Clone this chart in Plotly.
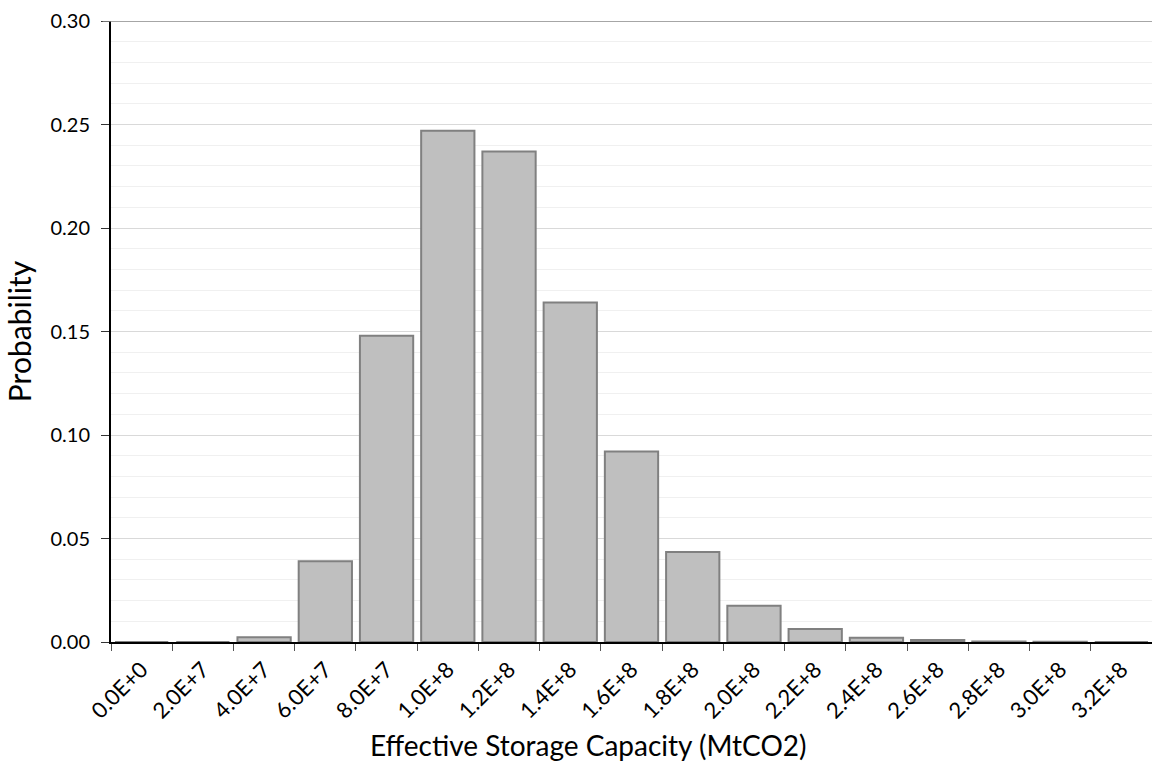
import plotly.graph_objects as go

categories = ["0.0E+0", "2.0E+7", "4.0E+7", "6.0E+7", "8.0E+7", "1.0E+8", "1.2E+8",
              "1.4E+8", "1.6E+8", "1.8E+8", "2.0E+8", "2.2E+8", "2.4E+8", "2.6E+8",
              "2.8E+8", "3.0E+8", "3.2E+8"]
probability = [0.0, 0.0, 0.0023, 0.039, 0.148, 0.247, 0.237, 0.164, 0.092, 0.0435,
               0.0175, 0.0063, 0.0021, 0.001, 0.0003, 0.0001, 0.0]
y_ticks = [0, 0.05, 0.10, 0.15, 0.20, 0.25, 0.30]
y_text = ["0.00", "0.05", "0.10", "0.15", "0.20", "0.25", "0.30"]

FONT = "Lato"

fig = go.Figure()
fig.add_trace(go.Bar(
    x=categories, y=probability,
    marker=dict(color="#bfbfbf", line=dict(color="#808080", width=2)),
))

fig.update_layout(
    width=1152, height=763,
    margin=dict(l=111, r=0, t=21, b=121),
    paper_bgcolor="white", plot_bgcolor="white",
    showlegend=False,
    font=dict(family=FONT, color="#000000"),
    bargap=0.13,
    shapes=[dict(type="line", xref="paper", yref="y", x0=-0.008, x1=1, y0=0.30, y1=0.30,
                 line=dict(color="#888888", width=1.5), layer="above")],
    annotations=[dict(text="Effective Storage Capacity (MtCO2)", xref="paper", yref="paper",
                      x=0.459, y=-0.166, xanchor="center", yanchor="middle", showarrow=False,
                      font=dict(size=28, family=FONT, color="#000000"))],
)
fig.update_xaxes(
    type="category", tickangle=-45, tickson="boundaries",
    tickfont=dict(size=22, family=FONT), ticks="outside", ticklen=7, tickcolor="#555555",
    ticklabelstandoff=4,
    showline=True, linecolor="#000000", linewidth=2, showgrid=False, zeroline=False,
    automargin=False,
)
fig.update_yaxes(
    range=[0, 0.30], tickvals=y_ticks, ticktext=y_text,
    tickfont=dict(size=20, family=FONT), ticks="outside", ticklen=8, tickcolor="#333333",
    ticklabelstandoff=7,
    showline=True, linecolor="#000000", linewidth=2,
    showgrid=True, gridcolor="#d9d9d9", gridwidth=1, zeroline=False,
    automargin=False,
    minor=dict(dtick=0.01, tick0=0, showgrid=True, gridcolor="#f0f0f0", gridwidth=1, ticks=""),
    title=dict(text="Probability", font=dict(size=30, family=FONT), standoff=10),
)

fig.write_html("out.html", config={"displayModeBar": False},
               post_script="document.body.style.margin='0';document.body.style.overflow='hidden';")
